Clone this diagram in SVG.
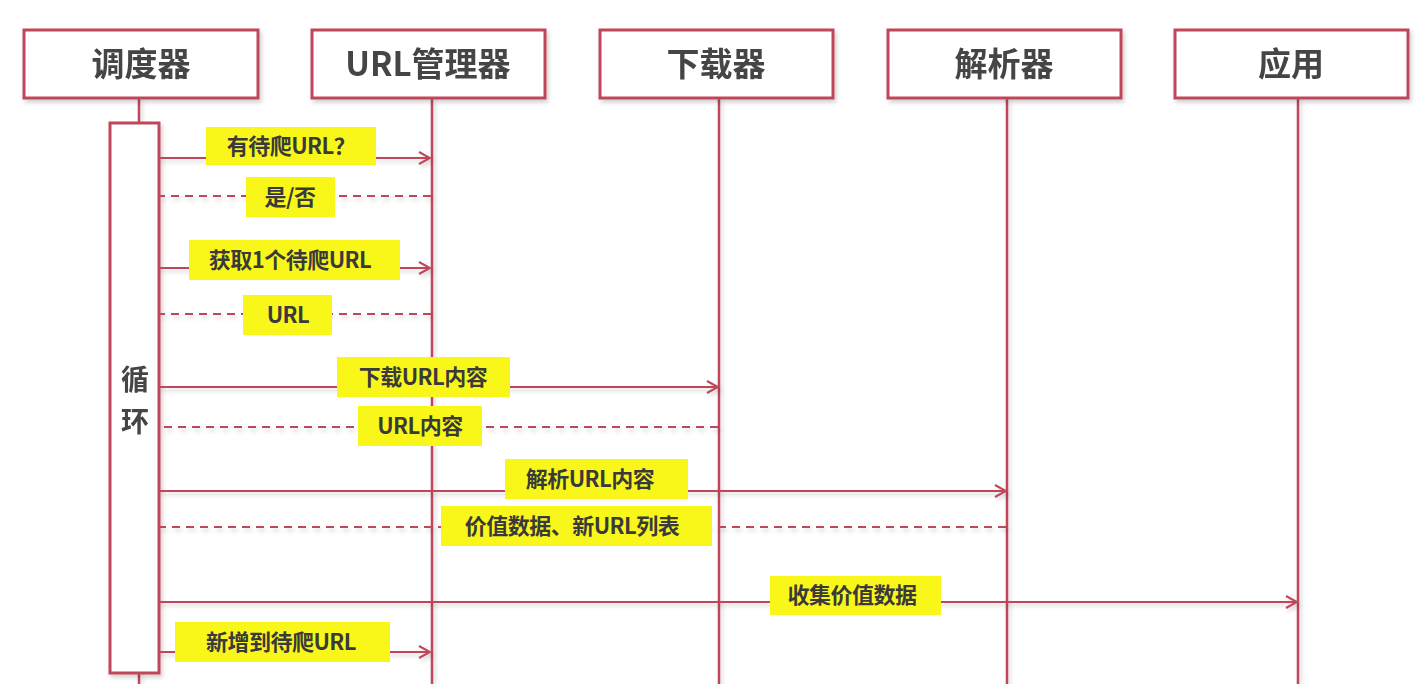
<svg xmlns="http://www.w3.org/2000/svg" width="1426" height="684" viewBox="0 0 1426 684">
<style>
.box{fill:#ffffff;stroke:#c0465a;stroke-width:3}
.life{stroke:#c0465a;stroke-width:2.5;fill:none}
.msg{stroke:#c0465a;stroke-width:2;fill:none}
.dash{stroke:#c0465a;stroke-width:2;fill:none;stroke-dasharray:8 6}
.hdr{font-family:"Noto Sans CJK SC","Liberation Sans",sans-serif;font-weight:bold;font-size:33px;fill:#444444;text-anchor:middle}
.lbl{fill:#f9f71a}
.lt{font-family:"Noto Sans CJK SC","Liberation Sans",sans-serif;font-weight:bold;font-size:22px;fill:#3a3a3a;text-anchor:middle;letter-spacing:-0.5px}
</style>
<defs>
<marker id="arr" markerWidth="14" markerHeight="14" refX="12" refY="7" orient="auto" markerUnits="userSpaceOnUse">
<path d="M1,1 L12,7 L1,13" fill="none" stroke="#c0465a" stroke-width="2"/>
</marker>
<filter id="sh" x="-10%" y="-10%" width="130%" height="130%">
<feDropShadow dx="2" dy="3" stdDeviation="2" flood-color="#000" flood-opacity="0.18"/>
</filter>
</defs>
<rect width="1426" height="684" fill="#ffffff"/>
<g id="lifelines" filter="url(#sh)">
<line class="life" x1="139" y1="98" x2="139" y2="123"/>
<line class="life" x1="139" y1="673" x2="139" y2="684"/>
<line class="life" x1="432" y1="98" x2="432" y2="684"/>
<line class="life" x1="719" y1="98" x2="719" y2="684"/>
<line class="life" x1="1007" y1="98" x2="1007" y2="684"/>
<line class="life" x1="1298" y1="98" x2="1298" y2="684"/>
</g>
<g id="scheduler" filter="url(#sh)">
<rect class="box" x="24" y="30" width="234" height="68"/>
<text class="hdr" x="141" y="76">调度器</text>
</g>
<g id="url-manager" filter="url(#sh)">
<rect class="box" x="312" y="30" width="233" height="68"/>
<text class="hdr" x="428" y="76">URL管理器</text>
</g>
<g id="downloader" filter="url(#sh)">
<rect class="box" x="600" y="30" width="233" height="68"/>
<text class="hdr" x="716" y="76">下载器</text>
</g>
<g id="parser" filter="url(#sh)">
<rect class="box" x="888" y="30" width="233" height="68"/>
<text class="hdr" x="1004" y="76">解析器</text>
</g>
<g id="app" filter="url(#sh)">
<rect class="box" x="1175" y="30" width="233" height="68"/>
<text class="hdr" x="1291" y="76">应用</text>
</g>
<g id="loop" filter="url(#sh)">
<rect class="box" x="110" y="123" width="49" height="550"/>
<text class="hdr" x="135" y="390" style="font-size:28px">循</text>
<text class="hdr" x="135" y="432" style="font-size:28px">环</text>
</g>
<g id="connectors" filter="url(#sh)">
<line class="msg" x1="159" y1="158" x2="430" y2="158" marker-end="url(#arr)"/>
<line class="dash" x1="431" y1="196" x2="160" y2="196"/>
<line class="msg" x1="159" y1="268" x2="430" y2="268" marker-end="url(#arr)"/>
<line class="dash" x1="431" y1="314" x2="160" y2="314"/>
<line class="msg" x1="159" y1="387" x2="718" y2="387" marker-end="url(#arr)"/>
<line class="dash" x1="718" y1="427" x2="160" y2="427"/>
<line class="msg" x1="159" y1="491" x2="1006" y2="491" marker-end="url(#arr)"/>
<line class="dash" x1="1006" y1="527" x2="160" y2="527"/>
<line class="msg" x1="159" y1="602" x2="1297" y2="602" marker-end="url(#arr)"/>
<line class="msg" x1="159" y1="652" x2="430" y2="652" marker-end="url(#arr)"/>
</g>
<g id="labels">
<rect class="lbl" x="206" y="127" width="170" height="38"/>
<text class="lt" x="291" y="154">有待爬URL？</text>
<rect class="lbl" x="246" y="177" width="89" height="40"/>
<text class="lt" x="290" y="205">是/否</text>
<rect class="lbl" x="189" y="240" width="211" height="40"/>
<text class="lt" x="290" y="268">获取1个待爬URL</text>
<rect class="lbl" x="243" y="295" width="89" height="40"/>
<text class="lt" x="288" y="323">URL</text>
<rect class="lbl" x="337" y="357" width="173" height="40"/>
<text class="lt" x="423" y="385">下载URL内容</text>
<rect class="lbl" x="358" y="406" width="124" height="40"/>
<text class="lt" x="420" y="434">URL内容</text>
<rect class="lbl" x="505" y="459" width="183" height="40"/>
<text class="lt" x="590" y="487">解析URL内容</text>
<rect class="lbl" x="441" y="506" width="271" height="40"/>
<text class="lt" x="572" y="534">价值数据、新URL列表</text>
<rect class="lbl" x="770" y="576" width="171" height="39"/>
<text class="lt" x="852" y="603">收集价值数据</text>
<rect class="lbl" x="175" y="622" width="215" height="40"/>
<text class="lt" x="281" y="650">新增到待爬URL</text>
</g>
</svg>
